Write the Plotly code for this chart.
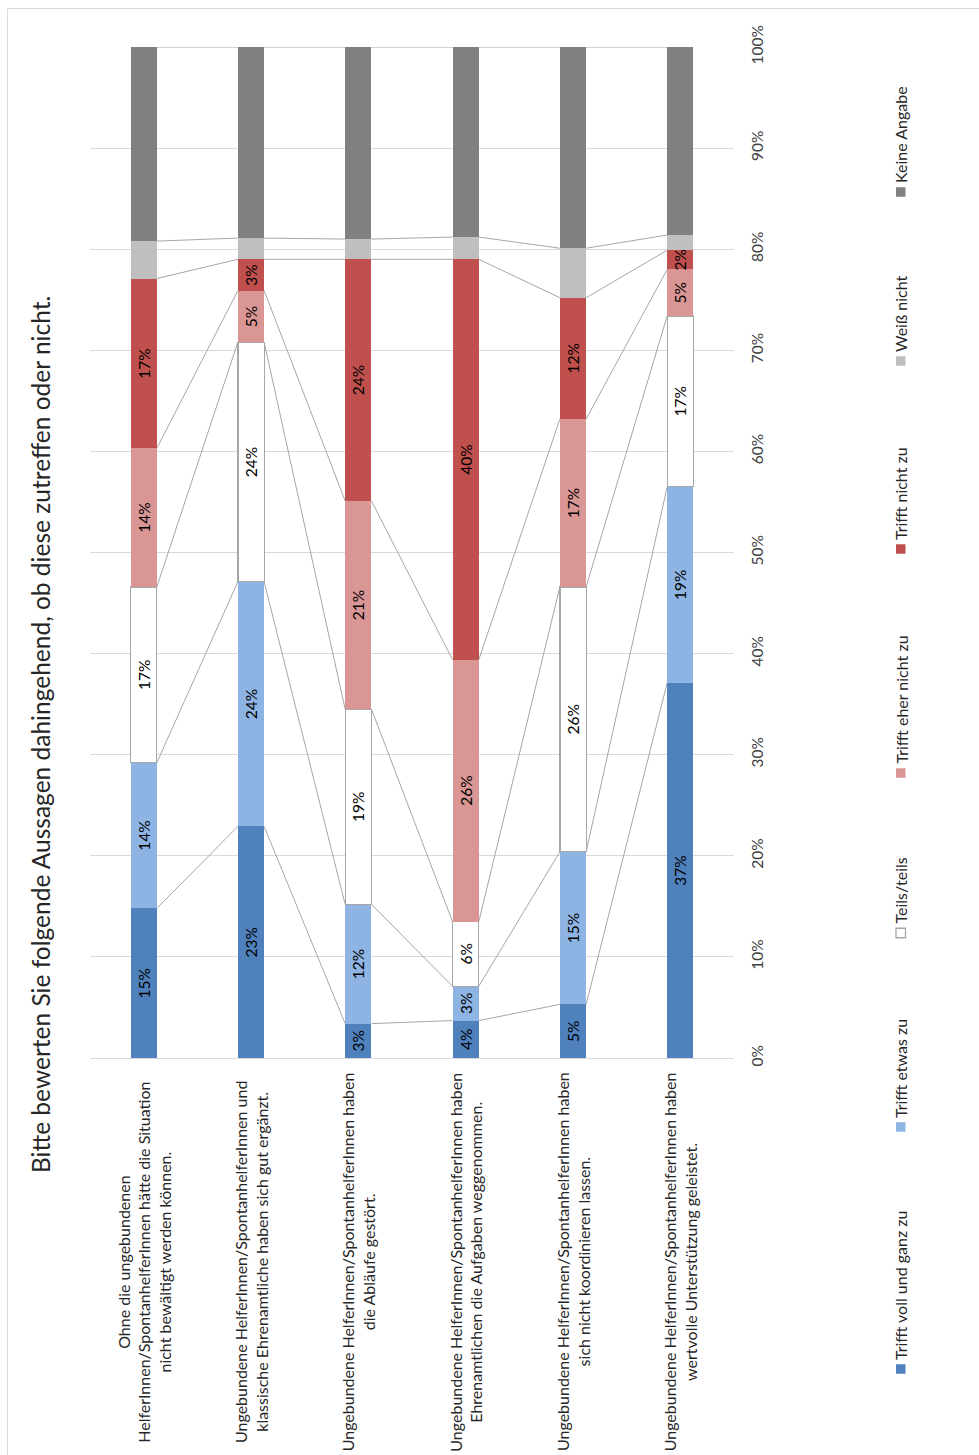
import plotly.graph_objects as go

categories = [
    "Ohne die ungebundenen<br>HelferInnen/SpontanhelferInnen hätte die Situation<br>nicht bewältigt werden können.",
    "Ungebundene HelferInnen/SpontanhelferInnen und<br>klassische Ehrenamtliche haben sich gut ergänzt.",
    "Ungebundene HelferInnen/SpontanhelferInnen haben<br>die Abläufe gestört.",
    "Ungebundene HelferInnen/SpontanhelferInnen haben<br>Ehrenamtlichen die Aufgaben weggenommen.",
    "Ungebundene HelferInnen/SpontanhelferInnen haben<br>sich nicht koordinieren lassen.",
    "Ungebundene HelferInnen/SpontanhelferInnen haben<br>wertvolle Unterstützung geleistet.",
]

series_names = ["Trifft voll und ganz zu", "Trifft etwas zu", "Teils/teils",
                "Trifft eher nicht zu", "Trifft nicht zu", "Weiß nicht", "Keine Angabe"]

voll = [14.8, 22.9, 3.4, 3.7, 5.3, 37.1]
etwas = [14.4, 24.2, 11.8, 3.4, 15.1, 19.4]
teils = [17.4, 23.7, 19.3, 6.4, 26.2, 16.9]
eher_nicht = [13.7, 5.1, 20.6, 25.9, 16.6, 4.6]
nicht = [16.8, 3.1, 23.9, 39.6, 12.0, 1.9]
weiss_nicht = [3.7, 2.1, 2.0, 2.2, 4.9, 1.5]
keine = [19.2, 18.9, 19.0, 18.8, 19.9, 18.6]

y_ticks = [0, 10, 20, 30, 40, 50, 60, 70, 80, 90, 100]

series_values = [voll, etwas, teils, eher_nicht, nicht, weiss_nicht, keine]
colors = ["#4F81BD", "#8EB4E3", "#FFFFFF", "#D99694", "#C0504D", "#BFBFBF", "#808080"]
show_labels = [True, True, True, True, True, False, False]

FONT = "Lato"
BAR_W = 0.245
xpos = list(range(len(categories)))

# pixel geometry helpers (plot area: x 90..734, y 47..1058)
def px_x(p):
    return (p - 90) / 644

def px_y(p):
    return (1058 - p) / 1011

fig = go.Figure()

for name, vals, col, lab in zip(series_names, series_values, colors, show_labels):
    fig.add_trace(go.Bar(
        x=xpos, y=vals, name=name, width=BAR_W,
        marker=dict(color=col,
                    line=dict(color="#A6A6A6" if col == "#FFFFFF" else col,
                              width=1.3 if col == "#FFFFFF" else 0)),
        texttemplate="%{y:.0f}%" if lab else None,
        textposition="inside" if lab else "none",
        insidetextanchor="middle",
        textangle=-90,
        textfont=dict(family=FONT, size=15.5, color="#000000"),
        showlegend=False,
    ))

# series lines
cum = [0.0] * len(categories)
for vals in series_values:
    cum = [c + v for c, v in zip(cum, vals)]
    lx, ly = [], []
    for i in range(len(categories) - 1):
        lx += [i + BAR_W / 2, i + 1 - BAR_W / 2, None]
        ly += [cum[i], cum[i + 1], None]
    fig.add_trace(go.Scatter(x=lx, y=ly, mode="lines",
                             line=dict(color="#A6A6A6", width=1),
                             showlegend=False, hoverinfo="skip"))

# category labels
for i, c in enumerate(categories):
    fig.add_annotation(x=i, y=px_y(1262), xref="x", yref="paper", text=c,
                       textangle=-90, showarrow=False, align="center",
                       xanchor="center", yanchor="middle",
                       font=dict(family=FONT, size=16, color="#262626"))

# title
fig.add_annotation(x=px_x(40), y=px_y(735), xref="paper", yref="paper",
                   text="Bitte bewerten Sie folgende Aussagen dahingehend, ob diese zutreffen oder nicht.",
                   textangle=-90, showarrow=False, xanchor="center", yanchor="middle",
                   font=dict(family=FONT, size=24.5, color="#262626"))

# legend (rotated): square marker + text
legend_square_y = [1369, 1127, 933, 773, 549, 361, 192]
for name, col, sy in zip(series_names, colors, legend_square_y):
    fig.add_shape(type="rect", xref="paper", yref="paper",
                  x0=px_x(896), x1=px_x(905.5), y0=px_y(sy + 4.75), y1=px_y(sy - 4.75),
                  fillcolor=col,
                  line=dict(color="#A6A6A6" if col == "#FFFFFF" else col,
                            width=1.3 if col == "#FFFFFF" else 0))
    fig.add_annotation(x=px_x(900.5), y=px_y(sy - 8), xref="paper", yref="paper",
                       text=name, textangle=-90, showarrow=False,
                       xanchor="center", yanchor="bottom", borderpad=0,
                       font=dict(family=FONT, size=16, color="#262626"))

# outer border
fig.add_shape(type="rect", xref="paper", yref="paper",
              x0=px_x(7.5), x1=px_x(990), y0=px_y(1470), y1=px_y(8.5),
              line=dict(color="#D9D9D9", width=1), fillcolor="rgba(0,0,0,0)", layer="below")

fig.update_layout(
    width=979, height=1455,
    margin=dict(l=90, r=245, t=47, b=397),
    barmode="stack",
    plot_bgcolor="white", paper_bgcolor="white",
    showlegend=False,
    xaxis=dict(range=[-0.5, 5.5], showticklabels=False, showgrid=False,
               zeroline=False, showline=False, ticks=""),
    yaxis=dict(range=[0, 100], side="right", tickvals=y_ticks,
               ticktext=[f"{t}%" for t in y_ticks], tickangle=-90,
               showgrid=True, gridcolor="#D9D9D9", gridwidth=1,
               zeroline=True, zerolinecolor="#D9D9D9", zerolinewidth=1,
               showline=False, ticks="", ticklabelstandoff=12,
               tickfont=dict(family=FONT, size=15.5, color="#404040")),
    uniformtext=dict(mode="show", minsize=15.5),
)

fig.write_html("out.html")
